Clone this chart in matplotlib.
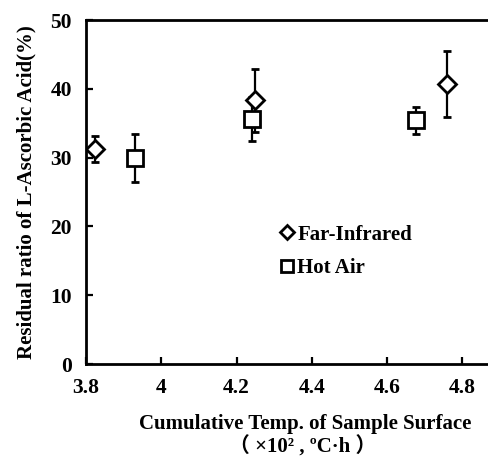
import numpy as np
import matplotlib
matplotlib.use("Agg")
import matplotlib.pyplot as plt
from matplotlib.lines import Line2D

# data
fir_x = [3.823, 4.249, 4.760]
fir_y = [31.2, 38.3, 40.7]
fir_err = [1.9, 4.6, 4.85]

hot_x = [3.930, 4.240, 4.678]
hot_y = [30.0, 35.6, 35.4]
hot_err = [3.5, 3.2, 1.9]

x_ticks = [3.8, 4.0, 4.2, 4.4, 4.6, 4.8]
x_ticklabels = ["3.8", "4", "4.2", "4.4", "4.6", "4.8"]
y_ticks = [0, 10, 20, 30, 40, 50]

plt.rcParams['font.family'] = ['Liberation Serif', 'Noto Sans CJK JP']
plt.rcParams['font.weight'] = 'bold'
plt.rcParams['axes.labelweight'] = 'bold'

W, H = 489, 457
fig = plt.figure(figsize=(W / 100, H / 100), dpi=100)
# axes run past the right edge of the picture, as in the reference
ax = fig.add_axes([86 / W, 1 - 364 / H, (500 - 86) / W, (364 - 20) / H])

ax.errorbar(fir_x, fir_y, yerr=fir_err, fmt='D', ms=9, mfc='white', mec='black',
            mew=2, ecolor='black', elinewidth=1.6, capsize=3, capthick=1.6,
            zorder=3)
ax.errorbar(hot_x, hot_y, yerr=hot_err, fmt='s', ms=11, mfc='white', mec='black',
            mew=2, ecolor='black', elinewidth=1.6, capsize=3, capthick=1.6,
            zorder=3)

ax.set_xlim(3.8, 4.9)
ax.set_ylim(0, 50)
ax.set_xticks(x_ticks)
ax.set_xticklabels(x_ticklabels)
ax.set_yticks(y_ticks)
ax.tick_params(direction='in', length=5, width=1.6, labelsize=15.5)
ax.tick_params(axis='x', pad=10)
ax.tick_params(axis='y', pad=10)
for s in ax.spines.values():
    s.set_linewidth(2)

ax.set_ylabel('Residual ratio of L-Ascorbic Acid(%)', fontsize=15, labelpad=10)

handles = [
    Line2D([], [], ls='none', marker='D', ms=7, mfc='white', mec='black', mew=2),
    Line2D([], [], ls='none', marker='s', ms=9, mfc='white', mec='black', mew=2),
]
ax.legend(handles, ['Far-Infrared', 'Hot Air'], loc='upper left',
          bbox_to_anchor=(0.46, 0.405), frameon=False, fontsize=15,
          handletextpad=0.0, handlelength=1.0, labelspacing=0.65,
          borderpad=0, borderaxespad=0)

fig.text(305 / W, 1 - 424 / H, 'Cumulative Temp. of Sample Surface',
         ha='center', va='center', fontsize=15)
fig.text(303 / W, 1 - 447 / H, '（ ×10² , ºC·h ）',
         ha='center', va='center', fontsize=15)

fig.savefig('out.png', dpi=100)
